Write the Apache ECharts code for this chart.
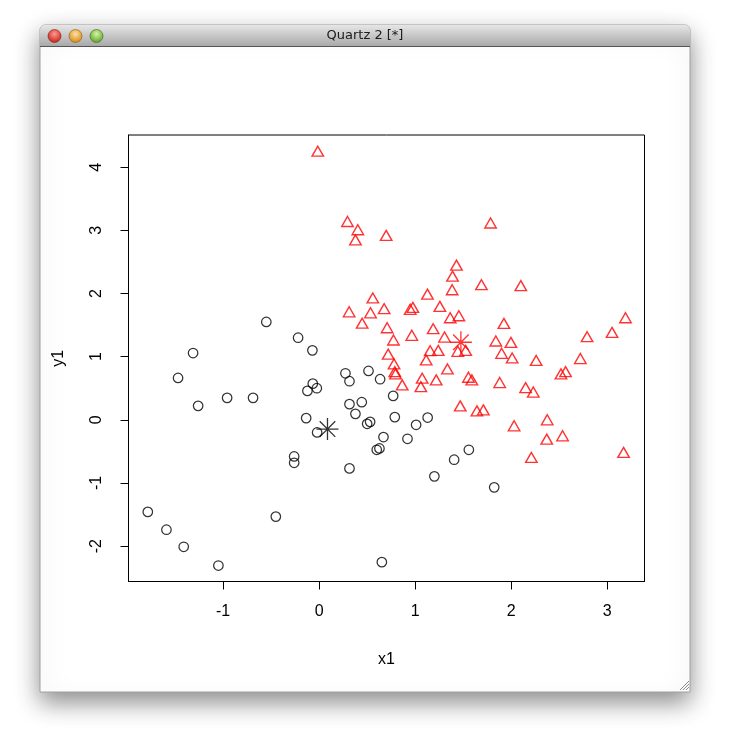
<!DOCTYPE html>
<html><head><meta charset="utf-8">
<script src="https://cdn.jsdelivr.net/npm/echarts@6/dist/echarts.min.js"></script>
<style>html,body{margin:0;padding:0;background:#fff}#c{width:731px;height:748px}</style>
</head><body><div id="c"></div>
<script>
// ---- data ----
const blackX = [-1.3125,-1.469,-1.26,-0.958,-0.688,-0.55,-0.219,-0.07,0.274,0.514,0.635,0.316,-0.066,-0.122,-0.024,0.771,0.316,0.444,0.378,-0.135,0.5,0.531,0.788,1.01,1.13,-0.021,0.67,0.92,0.6,0.628,0.316,1.406,1.559,1.2,0.653,1.823,-0.26,-0.26,-1.784,-1.59,-1.41,-1.049,-0.451];
const blackY = [1.058,0.663,0.221,0.348,0.348,1.55,1.3,1.1,0.737,0.774,0.643,0.611,0.573,0.458,0.5,0.379,0.248,0.279,0.095,0.027,-0.063,-0.032,0.043,-0.079,0.036,-0.2,-0.273,-0.3,-0.474,-0.453,-0.769,-0.632,-0.474,-0.895,-2.254,-1.069,-0.58,-0.68,-1.458,-1.74,-2.01,-2.307,-1.532];
const redX = [-0.014,0.295,0.403,0.378,0.698,1.43,1.389,1.385,1.785,1.69,2.1,1.128,0.559,0.3125,0.535,0.677,0.948,0.976,1.257,1.365,1.455,0.448,0.708,0.965,1.1875,0.774,1.306,1.924,3.19,3.05,2.79,1.84,1.997,0.719,1.156,1.24,1.444,1.526,1.9,2.01,2.26,2.72,2.518,2.566,1.115,0.78,0.788,0.795,1.336,0.865,1.073,1.059,1.219,1.555,1.59,1.88,2.15,2.23,1.469,1.643,1.71,2.03,2.375,2.535,2.37,2.21,3.17];
const redY = [4.254,3.14,3.01,2.85,2.92,2.45,2.275,2.06,3.117,2.14,2.125,1.99,1.93,1.71,1.695,1.76,1.75,1.78,1.796,1.616,1.648,1.53,1.458,1.338,1.443,1.264,1.311,1.527,1.616,1.385,1.316,1.248,1.227,1.04,1.095,1.1,1.085,1.1,1.053,0.98,0.94,0.97,0.727,0.763,0.948,0.885,0.763,0.727,0.806,0.553,0.659,0.526,0.632,0.674,0.632,0.59,0.51,0.44,0.221,0.142,0.158,-0.095,0.0,-0.253,-0.305,-0.596,-0.516];
const centerX = [0.087, 1.476];
const centerY = [-0.147, 1.228];
const centerColors = ['#000000', '#ff0000'];
const xTicks = [-1, 0, 1, 2, 3];
const yTicks = [-2, -1, 0, 1, 2, 3, 4];
const xName = 'x1';
const yName = 'y1';
const windowTitle = 'Quartz 2 [*]';

// ---- build ----
const zip = (xs, ys) => xs.map((x, i) => [x, ys[i]]);
const FONT = '"Liberation Sans", Arial, Helvetica, sans-serif';
const asterisk = 'path://M0,-10L0,10M-10,0L10,0M-7.07,-7.07L7.07,7.07M-7.07,7.07L7.07,-7.07';

const chart = echarts.init(document.getElementById('c'), null, {renderer: 'canvas'});
const grip = [];
for (let k = 0; k < 3; k++) {
  const d = 3 + k * 3;
  grip.push({type: 'line', z: -5, shape: {x1: 689 - d, y1: 690, x2: 689, y2: 690 - d},
    style: {stroke: '#8a8a8a', lineWidth: 1}});
}
chart.setOption({
  animation: false,
  backgroundColor: '#ffffff',
  graphic: {elements: [
    {type: 'rect', z: -10, shape: {x: 40, y: 25, width: 650, height: 667, r: [5,5,0,0]},
      style: {fill: '#ffffff', stroke: '#a0a0a0', lineWidth: 1, shadowBlur: 24, shadowColor: 'rgba(0,0,0,0.45)', shadowOffsetY: 10}},
    {type: 'rect', z: -9, shape: {x: 40, y: 25, width: 650, height: 21, r: [5,5,0,0]},
      style: {fill: new echarts.graphic.LinearGradient(0,0,0,1,[{offset:0,color:'#e6e6e6'},{offset:1,color:'#a9a9a9'}])}},
    {type: 'line', z: -8, shape: {x1: 40, y1: 46.5, x2: 690, y2: 46.5}, style: {stroke: '#555555', lineWidth: 1}},
    {type: 'circle', z: -8, shape: {cx: 54.5, cy: 36, r: 6.5},
      style: {fill: new echarts.graphic.RadialGradient(0.5,0.35,0.7,[{offset:0,color:'#ff9a90'},{offset:1,color:'#c0150c'}]), stroke: '#8a1a10', lineWidth: 0.6}},
    {type: 'circle', z: -8, shape: {cx: 75.5, cy: 36, r: 6.5},
      style: {fill: new echarts.graphic.RadialGradient(0.5,0.35,0.7,[{offset:0,color:'#ffe3a0'},{offset:1,color:'#d27d0a'}]), stroke: '#8a5a10', lineWidth: 0.6}},
    {type: 'circle', z: -8, shape: {cx: 96.5, cy: 36, r: 6.5},
      style: {fill: new echarts.graphic.RadialGradient(0.5,0.35,0.7,[{offset:0,color:'#d6f5a8'},{offset:1,color:'#4f9a1a'}]), stroke: '#3a6a10', lineWidth: 0.6}},
    {type: 'text', z: -8, x: 365, y: 36,
      style: {text: windowTitle, fill: '#1a1a1a', font: '13px "DejaVu Sans", sans-serif', align: 'center', verticalAlign: 'middle'}}
  ].concat(grip)},
  grid: {left: 128.5, top: 135, width: 516, height: 446.5, show: true, borderColor: '#000', borderWidth: 1, backgroundColor: 'transparent'},
  xAxis: {
    type: 'value', min: -1.985, max: 3.388,
    name: xName, nameLocation: 'middle', nameGap: 70,
    nameTextStyle: {color: '#000', fontSize: 16, fontFamily: FONT},
    splitLine: {show: false},
    axisLine: {show: true, onZero: false, lineStyle: {color: '#000', width: 1}},
    axisTick: {show: true, customValues: xTicks, length: 8, lineStyle: {color: '#000', width: 1}},
    axisLabel: {customValues: xTicks, margin: 22, color: '#000', fontSize: 16, fontFamily: FONT}
  },
  yAxis: {
    type: 'value', min: -2.56, max: 4.51,
    name: yName, nameLocation: 'middle', nameGap: 62, nameRotate: 90,
    nameTextStyle: {color: '#000', fontSize: 16, fontFamily: FONT},
    splitLine: {show: false},
    axisLine: {show: true, onZero: false, lineStyle: {color: '#000', width: 1}},
    axisTick: {show: true, customValues: yTicks, length: 8, lineStyle: {color: '#000', width: 1}},
    axisLabel: {customValues: yTicks, rotate: 90, margin: 24, color: '#000', fontSize: 16, fontFamily: FONT}
  },
  series: [
    {type: 'scatter', data: zip(blackX, blackY), symbol: 'circle', symbolSize: 9.5, silent: true,
      itemStyle: {color: 'transparent', borderColor: '#000', borderWidth: 1.25}},
    {type: 'scatter', data: zip(redX, redY), symbol: 'triangle', symbolSize: [11.5, 10], silent: true,
      itemStyle: {color: 'transparent', borderColor: '#ff0000', borderWidth: 1.4}},
    {type: 'scatter', silent: true, symbol: asterisk, symbolSize: 22,
      data: centerX.map((x, i) => ({value: [x, centerY[i]], itemStyle: {color: 'transparent', borderColor: centerColors[i], borderWidth: 1.3}}))}
  ]
});
</script></body></html>
